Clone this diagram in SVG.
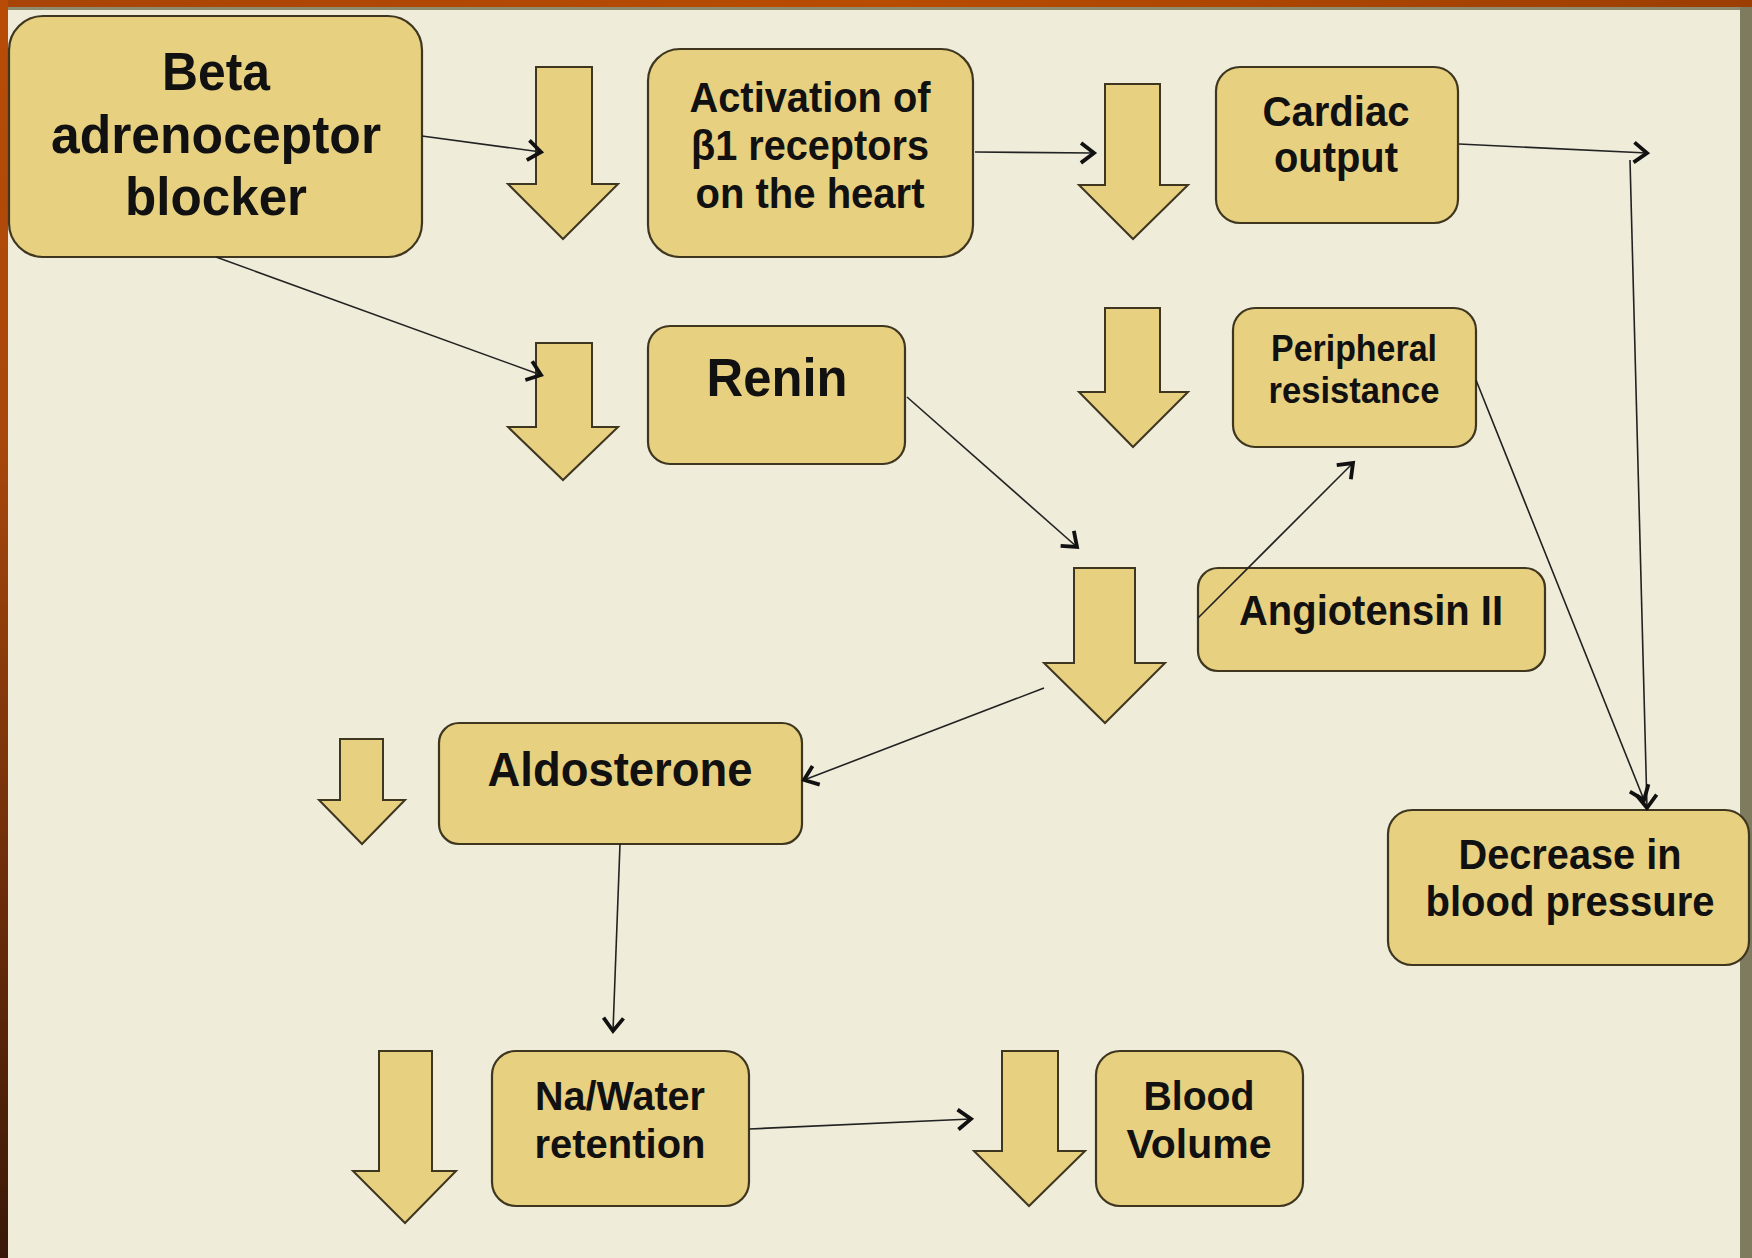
<svg xmlns="http://www.w3.org/2000/svg" width="1752" height="1258" viewBox="0 0 1752 1258">
<style>
.box{fill:#E7D080;stroke:#3f3620;stroke-width:2.2}
.big{fill:#E7D080;stroke:#3f3620;stroke-width:2}
.t{font-family:"Liberation Sans",Arial,sans-serif;font-weight:bold;text-anchor:middle;fill:#111}
.ln{fill:none;stroke:#222;stroke-width:1.6;marker-end:url(#ah)}
</style>
<defs>
<linearGradient id="lg" x1="0" y1="0" x2="0" y2="1">
<stop offset="0" stop-color="#B84C06"/>
<stop offset="0.35" stop-color="#A8470C"/>
<stop offset="1" stop-color="#3A1808"/>
</linearGradient>
<linearGradient id="tg" x1="0" y1="0" x2="1" y2="0">
<stop offset="0" stop-color="#A84408"/>
<stop offset="0.5" stop-color="#B84C00"/>
<stop offset="1" stop-color="#9C3E02"/>
</linearGradient>
<marker id="ah" markerUnits="userSpaceOnUse" viewBox="-18 -14 20 28" refX="0" refY="0" markerWidth="20" markerHeight="28" orient="auto" overflow="visible">
<path d="M-13,-10 L0,0 L-13,10" fill="none" stroke="#111" stroke-width="3.8" stroke-linejoin="miter"/>
</marker>
</defs>
<rect x="0" y="0" width="1752" height="1258" fill="#EFECDA"/>
<rect x="0" y="0" width="1752" height="7" fill="url(#tg)"/>
<rect x="0" y="7" width="1752" height="3" fill="#8E8C6E"/>
<rect x="1740" y="7" width="12" height="1251" fill="#7E7B5E"/>
<rect x="0" y="0" width="8" height="1258" fill="url(#lg)"/>

<g id="arrow1"><polygon class="big" points="536,67 592,67 592,184 618,184 563,239 508,184 536,184"/></g>
<g id="arrow2"><polygon class="big" points="1105,84 1160,84 1160,185 1188,185 1133,239 1079,185 1105,185"/></g>
<g id="arrow3"><polygon class="big" points="1105,308 1160,308 1160,392 1188,392 1133,447 1079,392 1105,392"/></g>
<g id="arrow4"><polygon class="big" points="536,343 592,343 592,427 618,427 563,480 508,427 536,427"/></g>
<g id="arrow5"><polygon class="big" points="1074,568 1135,568 1135,663 1165,663 1105,723 1044,663 1074,663"/></g>
<g id="arrow6"><polygon class="big" points="340,739 383,739 383,800 405,800 362,844 319,800 340,800"/></g>
<g id="arrow7"><polygon class="big" points="379,1051 432,1051 432,1171 456,1171 405,1223 353,1171 379,1171"/></g>
<g id="arrow8"><polygon class="big" points="1002,1051 1058,1051 1058,1151 1085,1151 1029,1206 974,1151 1002,1151"/></g>

<g id="beta">
<rect class="box" x="9" y="16" width="413" height="241" rx="34"/>
<text class="t" x="216" y="90" font-size="54" textLength="108" lengthAdjust="spacingAndGlyphs">Beta</text>
<text class="t" x="216" y="153" font-size="54" textLength="330" lengthAdjust="spacingAndGlyphs">adrenoceptor</text>
<text class="t" x="216" y="215" font-size="54" textLength="182" lengthAdjust="spacingAndGlyphs">blocker</text>
</g>
<g id="activation">
<rect class="box" x="648" y="49" width="325" height="208" rx="32"/>
<text class="t" x="810" y="112" font-size="42" textLength="241" lengthAdjust="spacingAndGlyphs">Activation of</text>
<text class="t" x="810" y="160" font-size="42" textLength="238" lengthAdjust="spacingAndGlyphs">β1 receptors</text>
<text class="t" x="810" y="208" font-size="42" textLength="229" lengthAdjust="spacingAndGlyphs">on the heart</text>
</g>
<g id="cardiac">
<rect class="box" x="1216" y="67" width="242" height="156" rx="24"/>
<text class="t" x="1336" y="126" font-size="42" textLength="147" lengthAdjust="spacingAndGlyphs">Cardiac</text>
<text class="t" x="1336" y="172" font-size="42" textLength="124" lengthAdjust="spacingAndGlyphs">output</text>
</g>
<g id="renin">
<rect class="box" x="648" y="326" width="257" height="138" rx="22"/>
<text class="t" x="777" y="396" font-size="54" textLength="141" lengthAdjust="spacingAndGlyphs">Renin</text>
</g>
<g id="peripheral">
<rect class="box" x="1233" y="308" width="243" height="139" rx="22"/>
<text class="t" x="1354" y="361" font-size="36" textLength="166" lengthAdjust="spacingAndGlyphs">Peripheral</text>
<text class="t" x="1354" y="403" font-size="36" textLength="171" lengthAdjust="spacingAndGlyphs">resistance</text>
</g>
<g id="angiotensin">
<rect class="box" x="1198" y="568" width="347" height="103" rx="20"/>
<text class="t" x="1371" y="625" font-size="42" textLength="264" lengthAdjust="spacingAndGlyphs">Angiotensin II</text>
</g>
<g id="aldosterone">
<rect class="box" x="439" y="723" width="363" height="121" rx="20"/>
<text class="t" x="620" y="786" font-size="48" textLength="265" lengthAdjust="spacingAndGlyphs">Aldosterone</text>
</g>
<g id="decrease">
<rect class="box" x="1388" y="810" width="361" height="155" rx="24"/>
<text class="t" x="1570" y="869" font-size="42" textLength="223" lengthAdjust="spacingAndGlyphs">Decrease in</text>
<text class="t" x="1570" y="916" font-size="42" textLength="289" lengthAdjust="spacingAndGlyphs">blood pressure</text>
</g>
<g id="nawater">
<rect class="box" x="492" y="1051" width="257" height="155" rx="24"/>
<text class="t" x="620" y="1110" font-size="41" textLength="170" lengthAdjust="spacingAndGlyphs">Na/Water</text>
<text class="t" x="620" y="1158" font-size="41" textLength="171" lengthAdjust="spacingAndGlyphs">retention</text>
</g>
<g id="bloodvolume">
<rect class="box" x="1096" y="1051" width="207" height="155" rx="24"/>
<text class="t" x="1199" y="1110" font-size="41" textLength="111" lengthAdjust="spacingAndGlyphs">Blood</text>
<text class="t" x="1199" y="1158" font-size="41" textLength="145" lengthAdjust="spacingAndGlyphs">Volume</text>
</g>

<g id="connectors">
<line class="ln" x1="422" y1="136" x2="541" y2="152"/>
<line class="ln" x1="216" y1="257" x2="541" y2="375"/>
<line class="ln" x1="975" y1="152" x2="1094" y2="153"/>
<line class="ln" x1="1459" y1="144" x2="1647" y2="153"/>
<line class="ln" x1="1630" y1="160" x2="1647" y2="808"/>
<line class="ln" x1="1476" y1="380" x2="1644" y2="800"/>
<line class="ln" x1="907" y1="397" x2="1077" y2="547"/>
<line class="ln" x1="1198" y1="618" x2="1353" y2="463"/>
<line class="ln" x1="1044" y1="688" x2="804" y2="780"/>
<line class="ln" x1="620" y1="844" x2="613" y2="1031"/>
<line class="ln" x1="749" y1="1129" x2="971" y2="1119"/>
</g>
</svg>
